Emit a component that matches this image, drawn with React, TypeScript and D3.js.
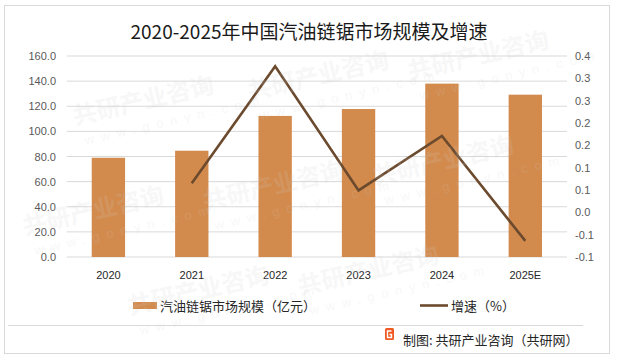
import React from "react";
import * as d3 from "d3";

const categories = ["2020", "2021", "2022", "2023", "2024", "2025E"];
const marketSize = [79.0, 84.6, 112.3, 117.8, 138.0, 129.2];
const growth = [null, 0.065, 0.327, 0.049, 0.171, -0.064];
const leftTicks = [0, 20, 40, 60, 80, 100, 120, 140, 160];
const rightTicks = [-0.1, -0.05, 0, 0.05, 0.1, 0.15, 0.2, 0.25, 0.3, 0.35];
const rightTickLabels = ["-0.1", "-0.1", "0.0", "0.1", "0.1", "0.2", "0.2", "0.3", "0.3", "0.4"];

const W = 617;
const H = 359;
const FONT = "'Noto Sans CJK SC', 'Noto Sans', sans-serif";
const AXFONT = "'Liberation Sans', Arial, sans-serif";
const BAR = "#D38B4D";
const LINE = "#6B4A2E";

const wmPos = [
  [75, 125], [250, 100], [410, 80],
  [25, 235], [205, 210], [375, 185],
  [130, 315], [300, 295],
];

export default function App() {
  const x = d3.scaleBand().domain(categories).range([66.7, 567]).paddingInner(0.6).paddingOuter(0.3);
  const yL = d3.scaleLinear().domain([0, 160]).range([257, 56]);
  const yR = d3.scaleLinear().domain([-0.1, 0.35]).range([257, 56]);
  const line = d3
    .line<number | null>()
    .defined((d) => d !== null)
    .x((_, i) => (x(categories[i]) as number) + x.bandwidth() / 2)
    .y((d) => yR(d as number));

  return (
    <svg width={W} height={H} style={{ position: "absolute", left: 0, top: 0, display: "block" }}>
      <rect x={0} y={0} width={W} height={H} fill="#fff" />
      <rect x={4.5} y={5.5} width={605} height={348} fill="#fff" stroke="#d9d9d9" strokeWidth={1} />
      <text x={309} y={39} textAnchor="middle" fontFamily={FONT} fontSize={19} fill="#1a1a1a">
        2020-2025年中国汽油链锯市场规模及增速
      </text>
      {leftTicks.map((t) => (
        <g key={"l" + t}>
          <line x1={66.7} x2={567} y1={yL(t)} y2={yL(t)} stroke="#d9d9d9" strokeWidth={1} />
          <text x={56} y={yL(t) + 4} textAnchor="end" fontFamily={AXFONT} fontSize={11} fill="#595959">
            {t.toFixed(1)}
          </text>
        </g>
      ))}
      {rightTicks.map((t, i) => (
        <text key={"r" + i} x={575} y={yR(t) + 4} textAnchor="start" fontFamily={AXFONT} fontSize={11} fill="#595959">
          {rightTickLabels[i]}
        </text>
      ))}
      {categories.map((c, i) => (
        <rect
          key={"b" + c}
          x={x(c) as number}
          y={yL(marketSize[i])}
          width={x.bandwidth()}
          height={yL(0) - yL(marketSize[i])}
          fill={BAR}
        />
      ))}
      <path d={line(growth) || ""} fill="none" stroke={LINE} strokeWidth={2.6} strokeLinejoin="miter" />
      {categories.map((c) => (
        <text
          key={"x" + c}
          x={(x(c) as number) + x.bandwidth() / 2}
          y={279}
          textAnchor="middle"
          fontFamily={AXFONT}
          fontSize={11}
          fill="#262626"
        >
          {c}
        </text>
      ))}
      <rect x={133} y={302} width={24} height={7} fill={BAR} />
      <text x={160} y={311} fontFamily={FONT} fontSize={13} fill="#262626">
        汽油链锯市场规模（亿元）
      </text>
      <line x1={420} x2={448} y1={305.5} y2={305.5} stroke={LINE} strokeWidth={2.6} />
      <text x={451} y={311} fontFamily={FONT} fontSize={13} fill="#262626">
        增速（%）
      </text>
      <line x1={8} x2={583} y1={325.5} y2={325.5} stroke="#d9d9d9" strokeWidth={1} />
      <rect x={385} y={328} width={9} height={12} rx={1.5} fill="#F05A22" />
      <path d="M391.5 331 H387.5 V337.5 H391.5 V334.5 H389.5" fill="none" stroke="#fff" strokeWidth={1.4} />
      <text x={403} y={345} fontFamily={FONT} fontSize={13} fill="#262626">
        制图: 共研产业咨询（共研网）
      </text>
      <g pointerEvents="none">
        {wmPos.map(([wx, wy], i) => (
          <g key={"w" + i} transform={`translate(${wx},${wy}) rotate(-13)`} opacity={0.15}>
            <text x={0} y={0} fontFamily={FONT} fontSize={24} fontWeight={700} fill="#cfcfcf">
              共研产业咨询
            </text>
            <text x={6} y={22} fontFamily={AXFONT} fontSize={13} fill="#cfcfcf" letterSpacing={7}>
              www.gonyn.com
            </text>
          </g>
        ))}
      </g>
    </svg>
  );
}
